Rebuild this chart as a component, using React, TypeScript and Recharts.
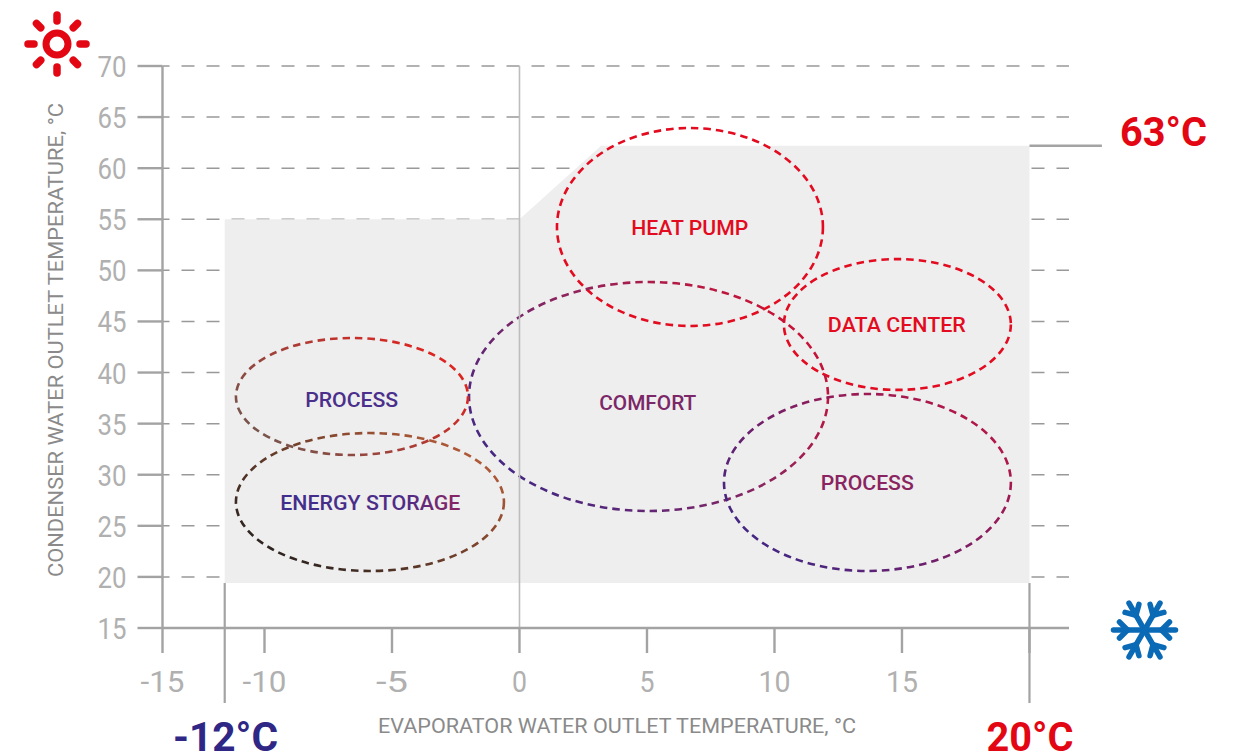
import React from 'react';
import { ComposedChart, Area, XAxis, YAxis, CartesianGrid, ReferenceArea, ReferenceLine, ReferenceDot } from 'recharts';

const xTicks = [-15, -10, -5, 0, 5, 10, 15, 20];
const xTickLabels = ['-15', '-10', '-5', '0', '5', '10', '15', ''];
const yTicks = [15, 20, 25, 30, 35, 40, 45, 50, 55, 60, 65, 70];
const gridValues = [20, 25, 30, 35, 40, 45, 50, 55, 60, 65, 70];
const envelopeX = [-11.95, 0, 3.2, 20];
const envelopeTop = [55, 55, 62.2, 62.2];
const envelopeBottom = 19.4;
const envelopeData = envelopeX.map((x, i) => ({ x, band: [envelopeBottom, envelopeTop[i]] }));

const zoneNames = ['HEAT PUMP', 'DATA CENTER', 'COMFORT', 'PROCESS', 'PROCESS', 'ENERGY STORAGE'];
const zoneX1 = [1.47, 10.37, -1.98, 8.02, -11.4, -11.4];
const zoneX2 = [11.9, 19.27, 12.1, 19.27, -2.02, -0.61];
const zoneY1 = [44.56, 38.3, 26.45, 20.58, 31.93, 20.58];
const zoneY2 = [63.93, 51.1, 48.86, 37.9, 43.38, 34.08];
const labelX = [6.68, 14.8, 5.03, 13.64, -6.58, -5.85];
const labelY = [54.2, 44.7, 37.1, 29.2, 37.4, 27.3];
const zoneStroke = ['#e30b20', '#e30b20', 'url(#gComfort)', 'url(#gProcessR)', 'url(#gProcessL)', 'url(#gEnergy)'];
const labelFill = ['#e30b20', '#e30b20', '#7b2768', '#8a2460', '#4a2f8c', 'url(#gEnergyText)'];
const labelWidth = [117, 138, 97, 93, 93, 180];

const AXIS = '#a3a3a3';
const RED = '#e30613';
const NAVY = '#2f2785';
const BLUE = '#0a6ab5';
const FONT = 'Roboto, sans-serif';

function warp(v: number) {
  return v >= -10 ? v : -10 + (v + 10) * 0.8;
}
function makeScale(d: number[] = [-15, 21.55], r: number[] = [0, 1]): any {
  const s: any = (v: number) => {
    const a = warp(d[0]);
    const b = warp(d[d.length - 1]);
    return r[0] + ((warp(v) - a) / (b - a)) * (r[r.length - 1] - r[0]);
  };
  s.domain = (x?: number[]) => (x ? makeScale(x, r) : d);
  s.range = (x?: number[]) => (x ? makeScale(d, x) : r);
  s.copy = () => makeScale(d, r);
  s.ticks = () => xTicks;
  return s;
}
const pieceScale = makeScale();

const YTick = (p: any) => (
  <text x={126.5} y={p.y + 11} textAnchor="end" fontFamily={FONT} fontWeight={400} fontSize={30} fill="#b0b0b0" textLength={29} lengthAdjust="spacingAndGlyphs">
    {p.payload.value}
  </text>
);
const XTick = (p: any) => {
  const t = xTickLabels[xTicks.indexOf(p.payload.value)];
  if (!t) return <g />;
  const w = t.length === 1 ? 15 : t.length === 2 ? 32 : 44;
  return (
    <text x={p.x} y={692} textAnchor="middle" fontFamily={FONT} fontWeight={400} fontSize={30} fill="#b0b0b0" textLength={w} lengthAdjust="spacingAndGlyphs">
      {t}
    </text>
  );
};

const Sun = () => (
  <g transform="translate(57,44)" stroke={RED} fill="none" strokeLinecap="round">
    <circle r={11} strokeWidth={7} />
    {[0, 45, 90, 135, 180, 225, 270, 315].map((a) => (
      <line key={a} x1={23} x2={29} y1={0} y2={0} strokeWidth={7.5} transform={`rotate(${a})`} />
    ))}
  </g>
);
const Flake = () => (
  <g transform="translate(1144.5,630)" stroke={BLUE} fill="none" strokeLinecap="round" strokeWidth={5.5}>
    {[0, 60, 120, 180, 240, 300].map((a) => (
      <g key={a} transform={`rotate(${a})`}>
        <line x1={0} y1={0} x2={31} y2={0} />
        <line x1={17} y1={0} x2={25} y2={-8} />
        <line x1={17} y1={0} x2={25} y2={8} />
      </g>
    ))}
  </g>
);

export default function App() {
  return (
    <div style={{ position: 'absolute', left: 0, top: 0, width: 1242, height: 755 }}>
      <ComposedChart width={1242} height={755} data={envelopeData} margin={{ top: 66, right: 173, bottom: 0, left: 0 }}>
        <defs>
          <linearGradient id="gComfort" x1="0" y1="0.9" x2="1" y2="0.2">
            <stop offset="0" stopColor="#36288a" />
            <stop offset="0.55" stopColor="#8a2560" />
            <stop offset="1" stopColor="#d01030" />
          </linearGradient>
          <linearGradient id="gProcessR" x1="0" y1="0.9" x2="1" y2="0.1">
            <stop offset="0" stopColor="#36288a" />
            <stop offset="1" stopColor="#c01540" />
          </linearGradient>
          <linearGradient id="gProcessL" x1="0" y1="0.8" x2="1" y2="0.2">
            <stop offset="0" stopColor="#70584f" />
            <stop offset="1" stopColor="#e6201c" />
          </linearGradient>
          <linearGradient id="gEnergy" x1="0" y1="0.9" x2="1" y2="0.1">
            <stop offset="0" stopColor="#1d1d1d" />
            <stop offset="1" stopColor="#c0603a" />
          </linearGradient>
          <linearGradient id="gEnergyText" x1="0" y1="0" x2="1" y2="0">
            <stop offset="0" stopColor="#3f2e8c" />
            <stop offset="0.7" stopColor="#4f2c86" />
            <stop offset="1" stopColor="#8a2460" />
          </linearGradient>
        </defs>
        <CartesianGrid vertical={false} horizontalValues={gridValues} stroke="#999999" strokeWidth={1.5} strokeDasharray="13 12" strokeDashoffset={6} />
        <Area dataKey="band" type="linear" stroke="none" fill="#eeeeee" fillOpacity={1} isAnimationActive={false} dot={false} activeDot={false} />
        <XAxis
          dataKey="x"
          type="number"
          scale={pieceScale}
          domain={[-15, 21.55]}
          ticks={xTicks}
          interval={0}
          allowDataOverflow
          height={127}
          tickSize={25}
          stroke={AXIS}
          strokeWidth={2.4}
          tick={<XTick />}
          tickLine={{ stroke: AXIS, strokeWidth: 2.4 }}
          axisLine={{ stroke: AXIS, strokeWidth: 2.4 }}
          label={{ value: 'EVAPORATOR WATER OUTLET TEMPERATURE, °C', position: 'insideBottom', content: () => (
            <text x={617} y={733} textAnchor="middle" fontFamily={FONT} fontWeight={400} fontSize={20} fill="#8a8a8a" textLength={478} lengthAdjust="spacingAndGlyphs">EVAPORATOR WATER OUTLET TEMPERATURE, °C</text>
          ) }}
        />
        <YAxis
          type="number"
          domain={[15, 70]}
          ticks={yTicks}
          interval={0}
          width={162.5}
          tickSize={25}
          tick={<YTick />}
          tickLine={{ stroke: AXIS, strokeWidth: 2.4 }}
          axisLine={{ stroke: AXIS, strokeWidth: 2.4 }}
          label={{ value: 'CONDENSER WATER OUTLET TEMPERATURE, °C', content: () => (
            <text transform="translate(63,340) rotate(-90)" textAnchor="middle" fontFamily={FONT} fontWeight={400} fontSize={20} fill="#8a8a8a" textLength={474} lengthAdjust="spacingAndGlyphs">CONDENSER WATER OUTLET TEMPERATURE, °C</text>
          ) }}
        />
        <ReferenceLine x={0} stroke="#bdbdbd" strokeWidth={1.6} />
        <ReferenceLine segment={[{ x: -11.95, y: 19.4 }, { x: -11.95, y: 7.66 }]} stroke={AXIS} strokeWidth={2.2} ifOverflow="visible" />
        <ReferenceLine segment={[{ x: 20, y: 19.4 }, { x: 20, y: 7.66 }]} stroke={AXIS} strokeWidth={2.2} ifOverflow="visible" />
        <ReferenceLine segment={[{ x: 20, y: 62.2 }, { x: 22.84, y: 62.2 }]} stroke={AXIS} strokeWidth={2.4} ifOverflow="visible" />
        {zoneNames.map((n, i) => (
          <ReferenceArea
            key={i}
            x1={zoneX1[i]}
            x2={zoneX2[i]}
            y1={zoneY1[i]}
            y2={zoneY2[i]}
            ifOverflow="visible"
            shape={(p: any) => (
              <ellipse cx={p.x + p.width / 2} cy={p.y + p.height / 2} rx={Math.abs(p.width) / 2} ry={Math.abs(p.height) / 2} fill="none" stroke={zoneStroke[i]} strokeWidth={2.6} strokeDasharray="7.5 5" />
            )}
          />
        ))}
        {zoneNames.map((n, i) => (
          <ReferenceDot
            key={i}
            x={labelX[i]}
            y={labelY[i]}
            r={0}
            ifOverflow="visible"
            shape={(p: any) => (
              <text x={p.cx} y={p.cy + 7.5} textAnchor="middle" fontFamily={FONT} fontWeight={500} fontSize={21} fill={labelFill[i]} textLength={labelWidth[i]} lengthAdjust="spacingAndGlyphs">{n}</text>
            )}
          />
        ))}
        <text x={225.5} y={751} textAnchor="middle" fontFamily={FONT} fontWeight={700} fontSize={40} fill={NAVY} textLength={105} lengthAdjust="spacingAndGlyphs">-12°C</text>
        <text x={1030} y={751} textAnchor="middle" fontFamily={FONT} fontWeight={700} fontSize={40} fill={RED} textLength={87} lengthAdjust="spacingAndGlyphs">20°C</text>
        <text x={1163.5} y={146} textAnchor="middle" fontFamily={FONT} fontWeight={700} fontSize={40} fill={RED} textLength={87} lengthAdjust="spacingAndGlyphs">63°C</text>
        <Sun />
        <Flake />
      </ComposedChart>
    </div>
  );
}
